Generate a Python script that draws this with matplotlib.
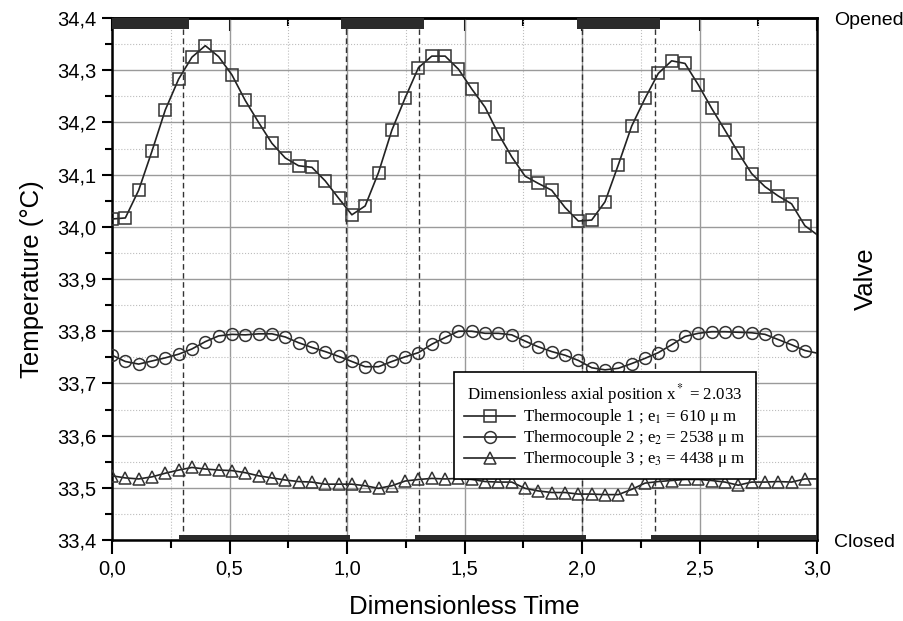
import matplotlib.pyplot as plt
import numpy as np

# sampled temperatures, thermocouples 1..3 (last value = curve end at t=3.0)
t = np.append(np.arange(53) * 0.0567, 3.0)
tc1 = [34.015, 34.017, 34.070, 34.145, 34.224, 34.283, 34.325, 34.347, 34.326, 34.291,
       34.242, 34.200, 34.160, 34.132, 34.117, 34.114, 34.088, 34.055, 34.023, 34.040,
       34.104, 34.185, 34.247, 34.305, 34.327, 34.327, 34.302, 34.264, 34.229, 34.178,
       34.134, 34.097, 34.083, 34.070, 34.037, 34.011, 34.013, 34.048, 34.119, 34.193,
       34.246, 34.294, 34.318, 34.313, 34.272, 34.227, 34.185, 34.142, 34.102, 34.077,
       34.059, 34.044, 34.002, 33.985]
tc2 = [33.754, 33.742, 33.737, 33.743, 33.749, 33.756, 33.766, 33.780, 33.791, 33.794,
       33.793, 33.795, 33.795, 33.789, 33.778, 33.769, 33.761, 33.752, 33.742, 33.732,
       33.732, 33.742, 33.751, 33.759, 33.775, 33.788, 33.800, 33.800, 33.796, 33.796,
       33.793, 33.781, 33.770, 33.761, 33.754, 33.744, 33.730, 33.726, 33.729, 33.738,
       33.748, 33.759, 33.774, 33.790, 33.796, 33.799, 33.799, 33.798, 33.797, 33.794,
       33.784, 33.774, 33.763, 33.758]
tc3 = [33.523, 33.519, 33.517, 33.521, 33.528, 33.534, 33.539, 33.536, 33.534, 33.533,
       33.529, 33.523, 33.519, 33.515, 33.512, 33.511, 33.507, 33.507, 33.507, 33.504,
       33.499, 33.504, 33.513, 33.516, 33.518, 33.517, 33.518, 33.516, 33.512, 33.511,
       33.511, 33.499, 33.494, 33.491, 33.491, 33.488, 33.488, 33.487, 33.487, 33.497,
       33.509, 33.512, 33.514, 33.516, 33.516, 33.514, 33.511, 33.505, 33.511, 33.511,
       33.512, 33.511, 33.517, 33.517]

# valve state intervals
open_start = [0.0, 0.973, 1.977]
open_end = [0.329, 1.329, 2.332]
closed_start = [0.285, 1.289, 2.294]
closed_end = [1.013, 2.016, 3.0]
switch_times = [0.304, 0.996, 1.306, 1.999, 2.311]

labels = ["Thermocouple 1 ; e$_1$ = 610 \u03bc m",
          "Thermocouple 2 ; e$_2$ = 2538 \u03bc m",
          "Thermocouple 3 ; e$_3$ = 4438 \u03bc m"]
markers = ["s", "o", "^"]

plt.rcParams['font.family'] = ['Liberation Sans', 'DejaVu Sans']
plt.rcParams['mathtext.fontset'] = 'stix'

fig = plt.figure(figsize=(9.04, 6.21), dpi=100)
ax = fig.add_axes([0.1239, 0.1304, 0.7799, 0.8406])

xt = np.arange(0, 3.01, 0.5)
yt = np.arange(33.4, 34.41, 0.1)
ax.set_xlim(0, 3.0)
ax.set_ylim(33.4, 34.4)
ax.set_xticks(xt)
ax.set_xticks(np.arange(0, 3.01, 0.25), minor=True)
ax.set_yticks(yt)
ax.set_yticks(np.arange(33.4, 34.41, 0.05), minor=True)
ax.set_xticklabels([f"{v:.1f}".replace(".", ",") for v in xt])
ax.set_yticklabels([f"{v:.1f}".replace(".", ",") for v in yt])
ax.grid(which='major', color='#9a9a9a', lw=1.0)
ax.grid(which='minor', color='#bdbdbd', lw=0.8, ls=':')
ax.set_axisbelow(True)

ax.tick_params(axis='both', which='major', labelsize=14.5, width=1.5, length=7,
               pad=4, direction='out')
ax.tick_params(axis='both', which='minor', width=1.5, length=5, direction='out')
ax.xaxis.set_tick_params(which='major', length=10)
ax.xaxis.set_tick_params(which='minor', length=6)
for sp in ax.spines.values():
    sp.set_linewidth(1.8)

# top axis: inward ticks, no labels
top = ax.secondary_xaxis('top')
top.set_xticks(xt)
top.set_xticks(np.arange(0, 3.01, 0.25), minor=True)
top.tick_params(which='major', direction='in', length=9, width=1.5, labeltop=False)
top.tick_params(which='minor', direction='in', length=6, width=1.5)
top.spines['top'].set_linewidth(1.8)

handles = []
for y, m, lab in zip([tc1, tc2, tc3], markers, labels):
    h, = ax.plot(t, y, color='#222222', lw=1.2, marker=m, ms=8.5, mfc='none',
                 mec='#333333', mew=1.1, markevery=list(range(53)), label=lab,
                 zorder=3)
    handles.append(h)

for x in switch_times:
    ax.axvline(x, color='#333333', lw=1.0, ls=(0, (4, 2.5)), zorder=2)

ax.set_xlabel("Dimensionless Time", fontsize=18.5, labelpad=12)
ax.set_ylabel("Temperature (\u00b0C)", fontsize=18.5, labelpad=10)

# valve axis
ax2 = ax.twinx()
ax2.set_ylim(0, 1)
ax2.set_yticks([0, 1])
ax2.set_yticklabels(["Closed", "Opened"], fontsize=14)
ax2.tick_params(axis='y', length=0, pad=12)
ax2.set_ylabel("Valve", fontsize=18.5)
ax2.yaxis.set_label_coords(1.052, 0.5)
for s, e in zip(open_start, open_end):
    ax2.fill_between([s, e], 0.979, 1.0, color='#2b2b2b', lw=0)
for s, e in zip(closed_start, closed_end):
    ax2.fill_between([s, e], 0.0, 0.009, color='#2b2b2b', lw=0)
for sp in ax2.spines.values():
    sp.set_visible(False)

leg = ax.legend(handles=handles, title="Dimensionless axial position x$^*$ = 2.033",
                loc='upper left', bbox_to_anchor=(0.485, 0.322), borderaxespad=0,
                fancybox=False, framealpha=1, edgecolor='black',
                prop={'family': 'Liberation Serif', 'size': 12.2},
                handlelength=3.0, handleheight=0.5, handletextpad=0.5,
                labelspacing=0.06, borderpad=0.6)
leg.get_title().set_family('Liberation Serif')
leg.get_title().set_fontsize(12.2)
leg.get_frame().set_linewidth(1.2)
leg.remove()
ax2.add_artist(leg)

fig.savefig("out.png", dpi=100)
